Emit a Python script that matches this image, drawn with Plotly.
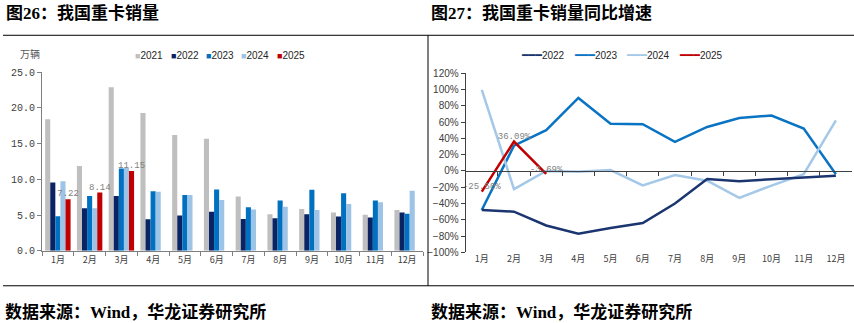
import plotly.graph_objects as go

W, H = 854, 323

months = ["1月", "2月", "3月", "4月", "5月", "6月", "7月", "8月", "9月", "10月", "11月", "12月"]

# Left chart: heavy-truck sales (万辆)
sales_2021 = [18.4, 11.85, 22.9, 19.3, 16.2, 15.7, 7.6, 5.1, 5.85, 5.35, 5.05, 5.7]
sales_2022 = [9.55, 5.96, 7.67, 4.4, 4.93, 5.45, 4.46, 4.55, 5.1, 4.78, 4.64, 5.36]
sales_2023 = [4.84, 7.67, 11.5, 8.34, 7.8, 8.57, 6.1, 7.05, 8.53, 8.04, 7.05, 5.18]
sales_2024 = [9.73, 5.96, 11.57, 8.25, 7.8, 7.1, 5.76, 6.16, 5.71, 6.56, 6.79, 8.39]
sales_2025 = [7.22, 8.14, 11.15]
sales_2025_labels = ["7.22", "8.14", "11.15"]

# Right chart: YoY growth (%)
yoy_2022 = [-48, -50, -67, -77, -70, -64, -40, -10, -12.6, -10, -8, -6]
yoy_2023 = [-48, 31, 50, 89.6, 57.8, 57.4, 35.8, 54, 65, 68, 52, -4]
yoy_2024 = [99.4, -22.4, 0, -1, 1, -17.7, -5, -12, -33, -18, -4, 62]
yoy_2025 = [-25.5, 36.09, -3.69]
yoy_2025_labels = ["-25.50%", "36.09%", "-3.69%"]

bar_series = [("2021", sales_2021), ("2022", sales_2022), ("2023", sales_2023),
              ("2024", sales_2024), ("2025", sales_2025)]
line_series = [("2022", yoy_2022), ("2023", yoy_2023), ("2024", yoy_2024), ("2025", yoy_2025)]

colors = {"2021": "#BFBFBF", "2022": "#0A2463", "2023": "#0070C0",
          "2024": "#9DC3E6", "2025": "#C00000"}
line_colors = {"2022": "#1B3570", "2023": "#0A74C4", "2024": "#A4C8E8", "2025": "#C00000"}

def px(x):
    return x / W

def py(y):
    return 1 - y / H

fig = go.Figure()

for name, vals in bar_series:
    kw = {}
    if name == "2025":
        kw = dict(text=sales_2025_labels, textposition="outside", constraintext="none",
                  cliponaxis=False,
                  textfont=dict(family="Liberation Mono", size=9, color="#7F7F7F"))
    fig.add_trace(go.Bar(x=months[:len(vals)], y=vals, name=name,
                         marker=dict(color=colors[name], line=dict(width=0)),
                         showlegend=False, xaxis="x", yaxis="y", **kw))

for name, vals in line_series:
    kw = {}
    mode = "lines"
    if name == "2025":
        mode = "lines+text"
        kw = dict(text=yoy_2025_labels, textposition="top center",
                  textfont=dict(family="Liberation Mono", size=9, color="#7F7F7F"))
    xa = "x3" if name == "2022" else "x2"
    fig.add_trace(go.Scatter(x=months[:len(vals)], y=vals, name=name, mode=mode,
                             line=dict(color=line_colors[name], width=2.5),
                             showlegend=False, cliponaxis=False,
                             xaxis=xa, yaxis="y2", **kw))

tickfont_month = dict(family="Noto Sans CJK SC", size=9, color="#404040")

yr2 = [-100, 120]
y2dom = [py(256.7), py(70)]
zero_pos = y2dom[0] + (0 - yr2[0]) / (yr2[1] - yr2[0]) * (y2dom[1] - y2dom[0])
xr = [-0.5, len(months) - 0.5]

fig.update_layout(
    width=W, height=H, margin=dict(l=0, r=0, t=0, b=0),
    paper_bgcolor="white", plot_bgcolor="white",
    barmode="group", bargap=0.2, bargroupgap=0,
    xaxis=dict(domain=[px(42), px(423)], anchor="y", type="category",
               showline=True, linecolor="#7F7F7F", linewidth=1,
               ticks="outside", ticklen=4, tickcolor="#7F7F7F", tickson="boundaries",
               tickfont=tickfont_month, showgrid=False),
    yaxis=dict(domain=[py(255), py(69)], anchor="x", range=[0, 25], dtick=5,
               tickformat=".1f", showline=True, linecolor="#7F7F7F", linewidth=1,
               ticks="outside", ticklen=4, tickcolor="#7F7F7F", showgrid=False, zeroline=False,
               tickfont=dict(family="Liberation Mono", size=10, color="#404040")),
    xaxis2=dict(domain=[px(465.7), px(852)], anchor="free", position=zero_pos,
                type="category", range=xr, showline=True, linecolor="#404040", linewidth=1,
                ticks="outside", ticklen=4, tickcolor="#404040", tickson="boundaries",
                showticklabels=False, showgrid=False),
    xaxis3=dict(domain=[px(465.7), px(852)], anchor="y2", overlaying="x2", type="category",
                range=xr, showline=False, ticks="", showticklabels=True, tickfont=tickfont_month,
                showgrid=False),
    yaxis2=dict(domain=y2dom, anchor="x2", range=yr2, dtick=20, ticksuffix="%",
                showline=True, linecolor="#404040", linewidth=1, ticks="outside",
                ticklen=4, tickcolor="#404040", showgrid=False, zeroline=False,
                tickfont=dict(family="Liberation Sans Narrow, Liberation Sans", size=10,
                              color="#404040")),
)

# Frame lines
frame = dict(color="black", width=1)
fig.add_shape(type="line", xref="paper", yref="paper", x0=px(3), x1=1, y0=py(30.5), y1=py(30.5), line=frame)
fig.add_shape(type="line", xref="paper", yref="paper", x0=px(3), x1=1, y0=py(291.5), y1=py(291.5), line=frame)
fig.add_shape(type="line", xref="paper", yref="paper", x0=px(428), x1=px(428), y0=py(30.5), y1=py(291.5), line=frame)

title_font = dict(family="Noto Sans CJK SC", size=17, color="black", weight="bold")
fig.add_annotation(text="图<span style='font-family:Liberation Serif'>26</span>：我国重卡销量",
                   x=px(4), y=py(6), xref="paper", yref="paper", xanchor="left", yanchor="middle",
                   showarrow=False, font=title_font)
fig.add_annotation(text="图<span style='font-family:Liberation Serif'>27</span>：我国重卡销量同比增速",
                   x=px(429), y=py(6), xref="paper", yref="paper", xanchor="left", yanchor="middle",
                   showarrow=False, font=title_font)

foot_font = dict(family="Noto Sans CJK SC", size=17, color="black", weight="bold")
for x0 in (3, 429):
    fig.add_annotation(text="数据来源：<span style='font-family:Liberation Serif'>Wind</span>，华龙证券研究所",
                       x=px(x0), y=py(317), xref="paper", yref="paper", xanchor="left",
                       yanchor="middle", showarrow=False, font=foot_font)

fig.add_annotation(text="万辆", x=px(18), y=py(50), xref="paper", yref="paper", xanchor="left",
                   yanchor="middle", showarrow=False,
                   font=dict(family="Noto Sans CJK SC", size=10, color="#595959"))

# Legends
leg_font = dict(family="Liberation Sans", size=10, color="#262626")
for i, (name, _) in enumerate(bar_series):
    fig.add_annotation(text=f"<span style='color:{colors[name]};font-size:9px'>■</span>{name}",
                       x=px(133 + i * 35.5), y=py(52), xref="paper", yref="paper",
                       xanchor="left", yanchor="middle", showarrow=False, font=leg_font)
for i, (name, _) in enumerate(line_series):
    fig.add_annotation(text=f"<span style='color:{line_colors[name]};font-family:DejaVu Sans Mono;font-size:11px'>━━━</span>{name}",
                       x=px(519 + i * 52.7), y=py(52), xref="paper", yref="paper",
                       xanchor="left", yanchor="middle", showarrow=False, font=leg_font)

fig.write_html("out.html")
